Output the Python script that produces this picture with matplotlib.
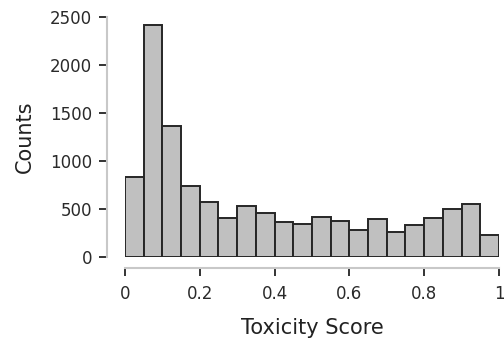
import numpy as np
import matplotlib
matplotlib.use("Agg")
import matplotlib.pyplot as plt

# histogram of toxicity scores, 20 bins of width 0.05
bin_edges = np.linspace(0, 1, 21)
counts = [830, 2420, 1365, 740, 576, 406, 535, 455, 365, 344,
          420, 375, 281, 396, 260, 337, 410, 503, 555, 232]
xticks = [0, 0.2, 0.4, 0.6, 0.8, 1]
xticklabels = ["0", "0.2", "0.4", "0.6", "0.8", "1"]
yticks = [0, 500, 1000, 1500, 2000, 2500]

plt.rcParams['font.family'] = ['DejaVu Sans']

fig = plt.figure(figsize=(5.04, 3.40), dpi=100)
ax = fig.add_axes([0.248, 0.244, 0.742, 0.706])

ax.bar(bin_edges[:-1], counts, width=np.diff(bin_edges), align='edge',
       color='#c0c0c0', edgecolor='#262626', linewidth=1.4)

ax.set_xlim(0, 1)
ax.set_ylim(0, 2500)
ax.set_xticks(xticks)
ax.set_xticklabels(xticklabels)
ax.set_yticks(yticks)

for s in ['top', 'right']:
    ax.spines[s].set_visible(False)
ax.spines['left'].set_position(('outward', 13))
ax.spines['bottom'].set_position(('outward', 8))
for s in ['left', 'bottom']:
    ax.spines[s].set_color('#c8c8c8')
    ax.spines[s].set_linewidth(1.5)

ax.tick_params(axis='both', direction='out', length=5.5, width=1.4,
               color='#333333', labelsize=12, labelcolor='#2a2a2a')
ax.tick_params(axis='y', pad=5)
ax.tick_params(axis='x', pad=6.5)

ax.set_xlabel('Toxicity Score', fontsize=15, color='#222222', labelpad=11)
ax.set_ylabel('Counts', fontsize=15, color='#222222', labelpad=11)

fig.savefig('out.png', dpi=100)
